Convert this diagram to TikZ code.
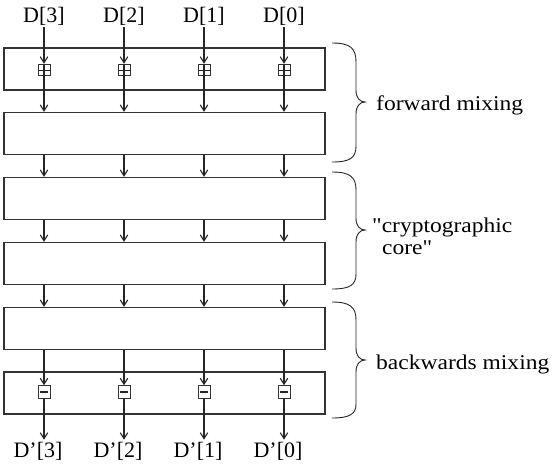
\documentclass[tikz,border=0pt]{standalone}
\usepackage{fontspec}
\setmainfont{Liberation Serif}
\usetikzlibrary{arrows.meta}
\newcommand{\sdq}{\XeTeXglyph\XeTeXcharglyph"0022\relax}
\begin{document}
\begin{tikzpicture}[x=1pt,y=-1pt,
  blk/.style={draw=black!80,line width=1.3pt,minimum width=321pt,minimum height=42pt,inner sep=0pt},
  sq/.style={draw=black!80,line width=1pt,minimum width=12pt,minimum height=11.5pt,inner sep=0pt},
  arr/.style={draw=black!85,line width=1.1pt,-{Straight Barb[length=6pt,width=7.5pt,line width=1.1pt]}},
  ln/.style={draw=black!85,line width=1.1pt},
  lab/.style={font=\fontsize{22}{26}\selectfont,inner sep=2pt},
  side/.style={font=\fontsize{21}{23}\selectfont,inner sep=0pt,anchor=west,align=left},
  brc/.style={draw=black!85,line width=0.9pt}]
\useasboundingbox (0,0) rectangle (554,466);
% blocks
\node[blk] (b1) at (164.5,69) {};
\node[blk] (b2) at (164.5,133.5) {};
\node[blk] (b3) at (164.5,198.5) {};
\node[blk] (b4) at (164.5,263.5) {};
\node[blk] (b5) at (164.5,328.5) {};
\node[blk] (b6) at (164.5,393) {};
% columns
\foreach \i/\x in {3/44,2/124,1/204,0/284}{
  \node[lab] (d\i) at (\x,16) {D[\i]};
  \node[sq] (s\i) at (\x,70) {};
  \node[sq,minimum height=12.5pt] (t\i) at (\x,392) {};
  \node[lab] (o\i) at (\x-6,451) {D'[\i]};
  \draw[arr] (d\i.south) -- (s\i.north);
  \draw[ln] (s\i.north) -- (s\i.south);
  \draw[ln,line width=0.9pt] (s\i.west) -- (s\i.east);
  \draw[arr] (s\i.south) -- (s\i.south |- b2.north);
  \draw[arr] (b2.south -| s\i) -- (b3.north -| s\i);
  \draw[arr] (b3.south -| s\i) -- (b4.north -| s\i);
  \draw[arr] (b4.south -| s\i) -- (b5.north -| s\i);
  \draw[arr] (b5.south -| t\i) -- (t\i.north);
  \draw[black!85,line width=2.2pt] ([xshift=2.5pt]t\i.west) -- ([xshift=-2.5pt]t\i.east);
  \draw[arr] (t\i.south) -- (t\i.south |- o\i.north);
}
% braces
\draw[brc] (332,43) .. controls (350,43) and (356,48) .. (356,62) -- (356,90)
  .. controls (356,98) and (360,102) .. (365,102)
  .. controls (360,102) and (356,106) .. (356,114) -- (356,146)
  .. controls (356,158) and (350,162) .. (332,162);
\draw[brc] (332,172) .. controls (350,172) and (356,177) .. (356,190) -- (356,218)
  .. controls (356,226) and (360,230) .. (365,230)
  .. controls (360,230) and (356,234) .. (356,242) -- (356,274)
  .. controls (356,285) and (350,289) .. (332,289);
\draw[brc] (332,302) .. controls (350,302) and (356,307) .. (356,320) -- (356,348)
  .. controls (356,356) and (360,360) .. (365,360)
  .. controls (360,360) and (356,364) .. (356,372) -- (356,404)
  .. controls (356,414) and (350,418) .. (332,418);
% side labels
\node[side] (fm) at (376,105) {\scalebox{1.12}[1]{forward mixing}};
\node[side] (cc) at (372,236) {\scalebox{1.12}[1]{\sdq cryptographic}\\[-1pt]\hspace*{10pt}\scalebox{1.12}[1]{core\sdq}};
\node[side] (bm) at (376,364) {\scalebox{1.12}[1]{backwards mixing}};
\end{tikzpicture}
\end{document}
